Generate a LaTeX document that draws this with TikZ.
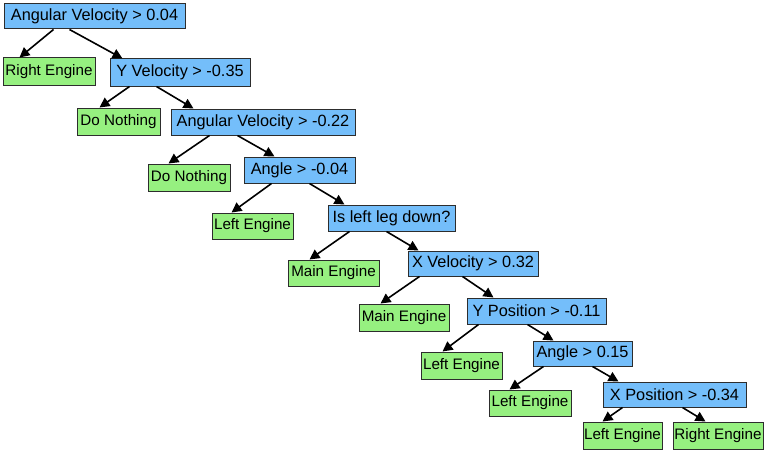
\documentclass[tikz,border=0pt]{standalone}
\usepackage{fontspec}
\setmainfont{Liberation Sans}
\usetikzlibrary{arrows.meta}
\definecolor{bluebox}{RGB}{116,190,250}
\definecolor{greenbox}{RGB}{150,240,128}
\definecolor{boxline}{RGB}{45,45,45}
\tikzset{
  box/.style={draw=boxline, line width=1pt, inner sep=0pt},
  test/.style={box, fill=bluebox, font=\fontsize{16.3}{19}\selectfont},
  leaf/.style={box, fill=greenbox, font=\fontsize{15.2}{18}\selectfont},
  edge/.style={-{Triangle[length=10pt,width=10pt]}, line width=1.6pt, black},
}
\newcommand{\bx}[6]{\node[#1, minimum width={#5-#3}, minimum height={#6-#4}] (#2) at ({(#3+#5)/2},{(#4+#6)/2})}
\begin{document}
\begin{tikzpicture}[x=1pt,y=-1pt]
\useasboundingbox (0,0) rectangle (768,452);
\bx{test}{r}{4}{4}{185}{29} {Angular Velocity > 0.04};
\bx{leaf}{re1}{3}{58}{95}{85} {Right Engine};
\bx{test}{yv}{110}{59}{250}{86} {Y Velocity > -0.35};
\bx{leaf}{dn1}{77}{108}{160}{135} {Do Nothing};
\bx{test}{av}{171}{109}{355}{135} {Angular Velocity > -0.22};
\bx{leaf}{dn2}{148}{164}{230}{191} {Do Nothing};
\bx{test}{a1}{244}{157}{355}{183} {Angle > -0.04};
\bx{leaf}{le1}{212}{213}{293}{239} {Left Engine};
\bx{test}{ld}{328}{205}{455}{231} {Is left leg down?};
\bx{leaf}{me1}{288}{260}{379}{286} {Main Engine};
\bx{test}{xv}{408}{251}{538}{276} {X Velocity > 0.32};
\bx{leaf}{me2}{359}{304}{449}{331} {Main Engine};
\bx{test}{yp}{467}{298}{606}{324} {Y Position > -0.11};
\bx{leaf}{le2}{421}{352}{502}{379} {Left Engine};
\bx{test}{a2}{533}{341}{632}{366} {Angle > 0.15};
\bx{leaf}{le3}{489}{390}{571}{416} {Left Engine};
\bx{test}{xp}{603}{382}{746}{407} {X Position > -0.34};
\bx{leaf}{le4}{583}{422}{662}{449} {Left Engine};
\bx{leaf}{re2}{673}{422}{763}{449} {Right Engine};
\draw[edge] ([xshift=50]r.south west) -- ([xshift=17]re1.north west);
\draw[edge] ([xshift=66]r.south west) -- ([xshift=13]yv.north west);
\draw[edge] ([xshift=20]yv.south west) -- ([xshift=23]dn1.north west);
\draw[edge] ([xshift=47]yv.south west) -- ([xshift=23]av.north west);
\draw[edge] ([xshift=39]av.south west) -- ([xshift=21]dn2.north west);
\draw[edge] ([xshift=67]av.south west) -- ([xshift=31]a1.north west);
\draw[edge] ([xshift=28]a1.south west) -- ([xshift=20]le1.north west);
\draw[edge] ([xshift=66]a1.south west) -- ([xshift=17]ld.north west);
\draw[edge] ([xshift=22]ld.south west) -- ([xshift=22]me1.north west);
\draw[edge] ([xshift=59]ld.south west) -- ([xshift=11]xv.north west);
\draw[edge] ([xshift=12]xv.south west) -- ([xshift=22]me2.north west);
\draw[edge] ([xshift=55]xv.south west) -- ([xshift=27]yp.north west);
\draw[edge] ([xshift=12]yp.south west) -- ([xshift=22]le2.north west);
\draw[edge] ([xshift=61]yp.south west) -- ([xshift=21]a2.north west);
\draw[edge] ([xshift=11]a2.south west) -- ([xshift=21]le3.north west);
\draw[edge] ([xshift=60]a2.south west) -- ([xshift=16]xp.north west);
\draw[edge] ([xshift=20]xp.south west) -- ([xshift=20]le4.north west);
\draw[edge] ([xshift=80]xp.south west) -- ([xshift=33]re2.north west);
\end{tikzpicture}
\end{document}
